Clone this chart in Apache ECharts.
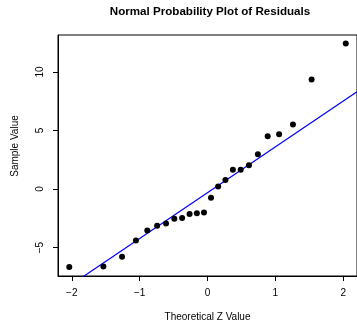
<!DOCTYPE html>
<html>
<head>
<meta charset="utf-8">
<script src="https://cdn.jsdelivr.net/npm/echarts@6/dist/echarts.min.js"></script>
<style>
html,body{margin:0;padding:0;background:#fff;}
#chart{width:357px;height:327px;}
</style>
</head>
<body>
<div id="chart"></div>
<script>
// Theoretical normal quantiles (x) and sample residuals (y)
const theoretical = [-2.037, -1.534, -1.259, -1.055, -0.887, -0.742, -0.611, -0.489, -0.374, -0.264, -0.157, -0.052,
                     0.052, 0.157, 0.264, 0.374, 0.489, 0.611, 0.742, 0.887, 1.055, 1.259, 1.534, 2.037];
const residuals = [-6.67, -6.61, -5.79, -4.39, -3.54, -3.14, -2.94, -2.54, -2.48, -2.14, -2.08, -2.00,
                   -0.74, 0.22, 0.77, 1.65, 1.65, 2.02, 2.96, 4.50, 4.67, 5.50, 9.34, 12.42];
// reference (qq) line
const lineIntercept = -0.32;
const lineSlope = 3.91;
const xTicks = [-2, -1, 0, 1, 2];
const yTicks = [-5, 0, 5, 10];
const xRange = [-2.203, 2.203];
const yRange = [-7.43, 13.15];

const pts = theoretical.map((x, i) => [x, residuals[i]]);
const linePts = xRange.map(x => [x, lineIntercept + lineSlope * x]);
const fmt = v => String(v).replace('-', '\u2212');
const font = 'Liberation Sans, Arial, Helvetica, sans-serif';

const chart = echarts.init(document.getElementById('chart'), null, {renderer: 'canvas'});
chart.setOption({
  animation: false,
  backgroundColor: '#ffffff',
  title: {
    text: 'Normal Probability Plot of Residuals',
    left: 210, top: 6, padding: 0, textAlign: 'center',
    textStyle: {fontFamily: font, fontSize: 11.6, fontWeight: 'bold', color: '#000'}
  },
  grid: {left: 58, top: 35, width: 304, height: 241, show: true, borderColor: '#000', borderWidth: 1, backgroundColor: 'transparent'},
  xAxis: {
    type: 'value', min: xRange[0], max: xRange[1],
    name: 'Theoretical Z Value', nameLocation: 'middle', nameGap: 36,
    nameTextStyle: {fontFamily: font, fontSize: 10, color: '#000'},
    splitLine: {show: false},
    axisLine: {show: true, onZero: false, lineStyle: {color: '#000', width: 1}},
    axisTick: {show: true, length: 5, lineStyle: {color: '#000'}, customValues: xTicks},
    axisLabel: {customValues: xTicks, formatter: fmt, margin: 12, fontFamily: font, fontSize: 10, color: '#000'}
  },
  yAxis: {
    type: 'value', min: yRange[0], max: yRange[1],
    splitLine: {show: false},
    axisLine: {show: true, onZero: false, lineStyle: {color: '#000', width: 1}},
    axisTick: {show: true, length: 5, lineStyle: {color: '#000'}, customValues: yTicks},
    axisLabel: {customValues: yTicks, formatter: fmt, rotate: 90, margin: 13, fontFamily: font, fontSize: 10, color: '#000'}
  },
  graphic: [{
    type: 'text', x: 15, y: 146, rotation: Math.PI / 2,
    style: {text: 'Sample Value', fontFamily: font, fontSize: 10, fill: '#000', align: 'center', verticalAlign: 'middle'}
  }],
  series: [
    {type: 'line', data: linePts, symbol: 'none', lineStyle: {color: '#0000ff', width: 1.2}, clip: true, z: 2},
    {type: 'scatter', data: pts, symbol: 'circle', symbolSize: 6, itemStyle: {color: '#000', opacity: 1}, z: 3}
  ]
});
</script>
</body>
</html>
